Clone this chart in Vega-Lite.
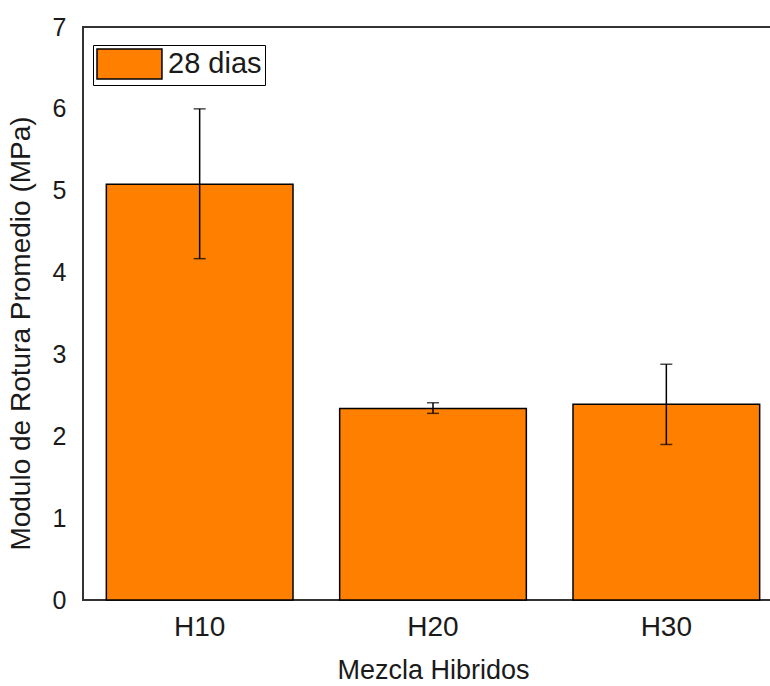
{
  "$schema": "https://vega.github.io/schema/vega-lite/v6.json",
  "autosize": {"type": "none"},
  "padding": {"left": 83, "top": 27, "right": 0, "bottom": 86},
  "width": 700,
  "height": 573,
  "background": "white",
  "config": {
    "font": "Liberation Sans",
    "view": {"stroke": "#333333", "strokeWidth": 2}
  },
  "data": {
    "values": [
      {"mezcla": "H10", "serie": "28 dias", "valor": 5.08, "lo": 4.17, "hi": 6.0},
      {"mezcla": "H20", "serie": "28 dias", "valor": 2.34, "lo": 2.28, "hi": 2.41},
      {"mezcla": "H30", "serie": "28 dias", "valor": 2.39, "lo": 1.9, "hi": 2.88}
    ]
  },
  "encoding": {
    "x": {
      "field": "mezcla",
      "type": "nominal",
      "scale": {"paddingInner": 0.2, "paddingOuter": 0.1},
      "axis": {
        "title": "Mezcla Hibridos",
        "labelAngle": 0,
        "domain": false,
        "ticks": false,
        "labelFontSize": 28,
        "labelColor": "#1a1a1a",
        "labelPadding": 13,
        "titleFontSize": 27,
        "titleFontWeight": "normal",
        "titleColor": "#1a1a1a",
        "titlePadding": 16
      }
    }
  },
  "layer": [
    {
      "mark": {"type": "bar", "stroke": "black", "strokeWidth": 1.5},
      "encoding": {
        "y": {
          "field": "valor",
          "type": "quantitative",
          "scale": {"domain": [0, 7], "nice": false},
          "axis": {
            "title": "Modulo de Rotura Promedio (MPa)",
            "values": [0, 1, 2, 3, 4, 5, 6, 7],
            "format": "d",
            "grid": false,
            "domain": false,
            "ticks": false,
            "labelFontSize": 25,
            "labelColor": "#1a1a1a",
            "labelPadding": 17,
            "titleFontSize": 28,
            "titleFontWeight": "normal",
            "titleColor": "#1a1a1a",
            "titleX": -48,
            "titleY": 306
          }
        },
        "color": {
          "field": "serie",
          "type": "nominal",
          "scale": {"range": ["#FF8000"]},
          "legend": {
            "title": null,
            "orient": "none",
            "legendX": 10,
            "legendY": 18,
            "padding": 3,
            "fillColor": "white",
            "strokeColor": "black",
            "symbolType": "M-1,-1H3.33V1H-1Z",
            "symbolSize": 900,
            "symbolStrokeColor": "black",
            "symbolStrokeWidth": 1.5,
            "symbolOpacity": 1,
            "labelOffset": 40,
            "labelFontSize": 29,
            "labelColor": "#1a1a1a"
          }
        }
      }
    },
    {
      "mark": {"type": "rule", "color": "black", "strokeWidth": 1.5},
      "encoding": {
        "y": {"field": "lo", "type": "quantitative"},
        "y2": {"field": "hi"}
      }
    },
    {
      "mark": {"type": "tick", "color": "black", "thickness": 1.5, "size": 12, "orient": "horizontal"},
      "encoding": {"y": {"field": "lo", "type": "quantitative"}}
    },
    {
      "mark": {"type": "tick", "color": "black", "thickness": 1.5, "size": 12, "orient": "horizontal"},
      "encoding": {"y": {"field": "hi", "type": "quantitative"}}
    }
  ]
}
